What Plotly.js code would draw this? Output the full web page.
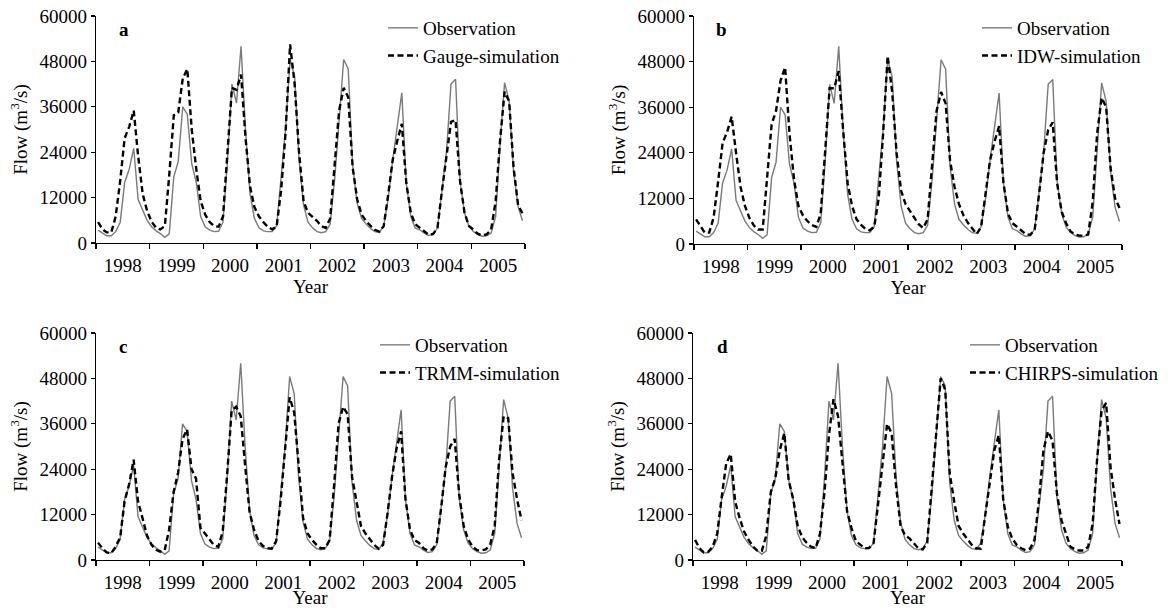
<!DOCTYPE html>
<html>
<head>
<meta charset="utf-8">
<script src="https://cdn.plot.ly/plotly-3.0.1.min.js"></script>
<style>
html,body{margin:0;padding:0;background:#fff;}
#chart{width:1171px;height:608px;}
</style>
</head>
<body>
<div id="chart"></div>
<script>
// Monthly flow (m3/s), Jan 1998 .. Dec 2005
var years = [1998, 1999, 2000, 2001, 2002, 2003, 2004, 2005];
var yearLabels = ["1998", "1999", "2000", "2001", "2002", "2003", "2004", "2005"];
var yTicks = [0, 12000, 24000, 36000, 48000, 60000];
var panelLetters = ["a", "b", "c", "d"];
var simNames = ["Gauge-simulation", "IDW-simulation", "TRMM-simulation", "CHIRPS-simulation"];

var observation = [
  3400, 2600, 1900, 1900, 3000, 5500, 16000, 19500, 25000, 11500, 8500, 6000,
  4300, 3200, 2500, 1500, 2400, 17500, 21500, 36000, 34000, 21000, 16000, 7000,
  4200, 3400, 3000, 3100, 5500, 22000, 42000, 37000, 52000, 30000, 13000, 6500,
  4000, 3200, 3000, 3000, 4500, 18000, 30000, 48500, 44000, 22000, 10000, 5500,
  4000, 3000, 2700, 3000, 5000, 17000, 33000, 48500, 46000, 20500, 10500, 6500,
  5000, 3800, 3000, 2800, 4500, 12000, 22000, 31000, 39700, 16000, 7000, 4000,
  3500, 2600, 2000, 2200, 4000, 14000, 24000, 42000, 43300, 16500, 8000, 4500,
  3000, 2200, 1800, 1900, 2600, 7000, 26000, 42400, 37500, 19000, 9600, 5900
];
var gaugeSim = [
  5500, 3600, 2800, 2800, 7000, 16500, 27700, 30700, 35000, 23000, 13000, 8500,
  5600, 4000, 3600, 4500, 18000, 33800, 34500, 43500, 46000, 30000, 19500, 11000,
  7500, 5500, 4500, 4300, 7000, 23000, 41000, 40500, 44500, 28000, 15000, 9500,
  7000, 5500, 4300, 3600, 4300, 14000, 29000, 52500, 42000, 24000, 11000, 8000,
  7000, 5800, 4500, 4000, 6500, 22000, 35000, 41000, 38500, 20000, 11500, 7500,
  5800, 4500, 3500, 3000, 4500, 13000, 22000, 27000, 31500, 16000, 8000, 5000,
  4000, 3000, 2200, 2400, 4000, 14000, 22500, 32000, 32500, 16500, 8000, 4500,
  3500, 2400, 2000, 2300, 3500, 11000, 27000, 40000, 37500, 20000, 10000, 7800
];
var idwSim = [
  6500, 4500, 3000, 3000, 7000, 16500, 26500, 29500, 33500, 24000, 15000, 10000,
  6800, 4800, 3800, 3800, 17000, 31500, 35000, 43000, 46500, 29000, 17000, 10000,
  7500, 6000, 5000, 4500, 8000, 24000, 41000, 41000, 45500, 30000, 16000, 10000,
  6500, 5000, 4000, 3600, 4500, 12000, 29000, 49500, 40000, 24000, 14000, 10500,
  8500, 6800, 5200, 4200, 6500, 22000, 35000, 40000, 37000, 22000, 15000, 10500,
  7500, 5500, 4000, 2600, 4500, 14000, 22000, 27000, 31000, 16000, 8000, 5500,
  4500, 3300, 2600, 2400, 3800, 13500, 24000, 30000, 32000, 16000, 8500, 5500,
  3300, 2500, 2200, 2200, 2500, 11000, 29000, 38500, 36000, 20000, 12000, 9500
];
var trmmSim = [
  4600, 3000, 2000, 1800, 3500, 6000, 15500, 20000, 26500, 15500, 11000, 6500,
  4000, 2700, 2200, 2600, 8000, 18000, 23000, 32000, 34500, 24000, 21500, 8500,
  7000, 5300, 4000, 3500, 7500, 23000, 39500, 40500, 38000, 25000, 12500, 8000,
  5000, 3700, 3100, 3000, 5000, 16000, 29000, 43000, 39000, 24000, 11000, 7000,
  5300, 4000, 3100, 3100, 5300, 20000, 36000, 40500, 38500, 22000, 15000, 9000,
  7000, 5300, 4000, 3000, 4000, 12500, 22000, 29500, 34000, 16000, 8000, 5300,
  4500, 3100, 2500, 2800, 4400, 14000, 24500, 30000, 32000, 17500, 9000, 5500,
  3500, 2600, 2500, 2800, 4000, 9000, 26500, 38000, 37500, 23000, 16000, 10500
];
var chirpsSim = [
  5300, 3100, 2000, 2200, 3500, 7000, 16500, 25500, 28000, 15500, 11000, 7500,
  5300, 3500, 2500, 2400, 6500, 18000, 21500, 29000, 33500, 21000, 16000, 9000,
  6000, 4500, 3500, 3100, 7000, 18000, 33000, 42500, 38000, 26000, 13000, 8500,
  5000, 4000, 3100, 3200, 4500, 15000, 25000, 36000, 33500, 19500, 9000, 6500,
  5700, 4400, 3100, 2800, 4500, 19000, 34000, 48000, 45000, 23000, 15500, 9000,
  7000, 5300, 4000, 3100, 3000, 12000, 21000, 29000, 33000, 16000, 8800, 5700,
  4000, 3100, 2600, 3000, 5300, 16000, 29000, 34000, 31500, 17500, 10500, 7000,
  3500, 2800, 2500, 2500, 3500, 9500, 26500, 39500, 41500, 24500, 16000, 9500
];
var simSeries = [gaugeSim, idwSim, trmmSim, chirpsSim];

// month mid-points as dates
var months = [];
years.forEach(function (y) {
  for (var m = 1; m <= 12; m++) {
    months.push(y + "-" + (m < 10 ? "0" : "") + m + "-15");
  }
});

var W = 1171, H = 608;
var FONT = "Liberation Serif, Times New Roman, serif";
// panel boxes in pixels: [left, right, top, bottom]
var boxes = [
  [96, 525, 16, 243],
  [694, 1122, 16, 244],
  [96, 524, 333, 560],
  [693, 1122, 333, 560]
];
// legend text start (px) and legend top (px)
var legendPos = [[423, 9], [1017, 9], [415, 326], [1005, 326]];
var letterPos = [[124, 29], [721, 29], [123, 346], [722, 346]];

var traces = [];
var layout = {
  width: W, height: H,
  margin: {l: 0, r: 0, t: 0, b: 0},
  paper_bgcolor: "#ffffff",
  plot_bgcolor: "#ffffff",
  font: {family: FONT, size: 18, color: "#000"},
  showlegend: true,
  annotations: []
};

for (var p = 0; p < 4; p++) {
  var sfx = p === 0 ? "" : String(p + 1);
  var legName = "legend" + (p === 0 ? "" : String(p + 1));
  var b = boxes[p];
  traces.push({
    x: months, y: observation, type: "scatter", mode: "lines",
    name: "Observation", xaxis: "x" + sfx, yaxis: "y" + sfx,
    legend: legName,
    line: {color: "#7a7a7a", width: 1.4}
  });
  traces.push({
    x: months, y: simSeries[p], type: "scatter", mode: "lines",
    name: simNames[p], xaxis: "x" + sfx, yaxis: "y" + sfx,
    legend: legName,
    line: {color: "#000000", width: 2.4, dash: "6px,3.5px"}
  });
  layout["xaxis" + sfx] = {
    domain: [b[0] / W, b[1] / W],
    anchor: "y" + sfx,
    type: "date",
    range: ["1998-01-01", "2006-01-01"],
    tick0: "1998-01-01",
    dtick: "M12",
    tickformat: "%Y",
    ticklabelmode: "period",
    ticks: "outside", ticklen: 5, tickwidth: 1.3, tickcolor: "#000",
    showline: true, linecolor: "#000", linewidth: 1.3,
    showgrid: false, zeroline: false,
    tickfont: {family: FONT, size: 19, color: "#000"},
    title: {text: "Year", font: {family: FONT, size: 19, color: "#000"}, standoff: 0},
    fixedrange: true
  };
  layout["yaxis" + sfx] = {
    domain: [1 - b[3] / H, 1 - b[2] / H],
    anchor: "x" + sfx,
    range: [0, 60000],
    tickvals: yTicks,
    ticktext: yTicks.map(String),
    ticks: "outside", ticklen: 4, tickwidth: 1.3, tickcolor: "#000",
    showline: true, linecolor: "#000", linewidth: 1.3,
    showgrid: false, zeroline: false,
    tickfont: {family: FONT, size: 19, color: "#000"},
    title: {text: "Flow (m<sup>3</sup>/s)", font: {family: FONT, size: 19, color: "#000"}, standoff: 6},
    fixedrange: true
  };
  layout[legName] = {
    x: (legendPos[p][0] - 40) / W, xanchor: "left",
    y: 1 - legendPos[p][1] / H, yanchor: "top",
    bgcolor: "rgba(0,0,0,0)", borderwidth: 0,
    font: {family: FONT, size: 19, color: "#000"},
    tracegroupgap: 0
  };
  layout.annotations.push({
    text: "<b>" + panelLetters[p] + "</b>",
    xref: "paper", yref: "paper",
    x: letterPos[p][0] / W, y: 1 - letterPos[p][1] / H,
    xanchor: "center", yanchor: "middle",
    showarrow: false,
    font: {family: FONT, size: 19, color: "#000"}
  });
}

Plotly.newPlot("chart", traces, layout, {displayModeBar: false, staticPlot: true});
</script>
</body>
</html>
